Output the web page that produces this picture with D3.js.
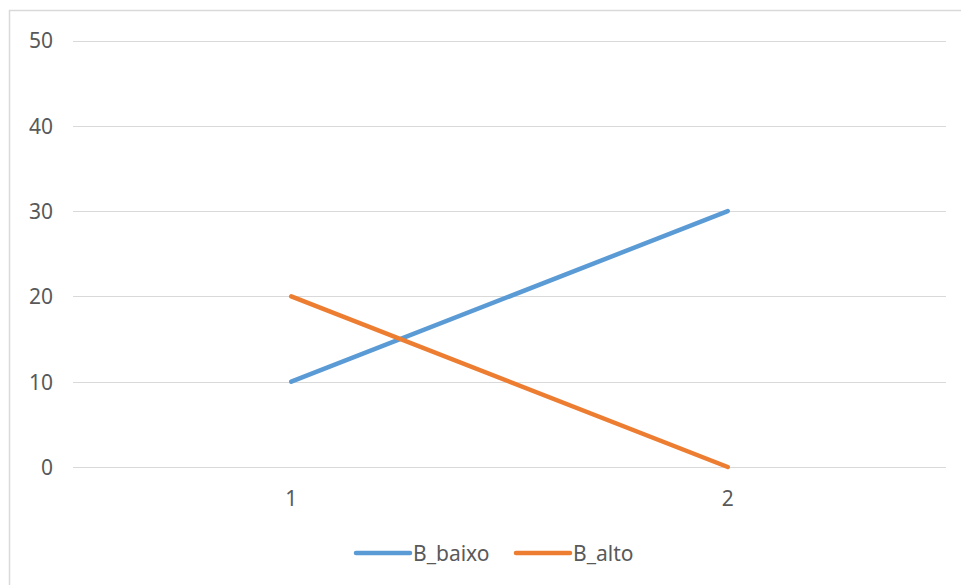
<!DOCTYPE html>
<html><head><meta charset="utf-8">
<script src="https://cdn.jsdelivr.net/npm/d3@7"></script>
<style>body{margin:0;background:#fff}svg{display:block}</style>
</head><body>
<svg id="c" width="961" height="585"></svg>
<script>
const categories = ["1", "2"];
const seriesNames = ["B_baixo", "B_alto"];
const B_baixo = [10, 30];
const B_alto = [20, 0];
const yTicks = [0, 10, 20, 30, 40, 50];
const colors = ["#5B9BD5", "#ED7D31"];

const svg = d3.select("#c");
const font = "Noto Sans, sans-serif";
const fs = 21;
svg.append("rect").attr("x", 9.5).attr("y", 10.5).attr("width", 1000).attr("height", 1000)
  .attr("fill", "#fff").attr("stroke", "#d9d9d9").attr("stroke-width", 1.5);

const x = d3.scaleBand().domain(categories).range([73, 946]);
const y = d3.scaleLinear().domain([0, 50]).range([467, 40.5]);

const grid = svg.append("g");
grid.selectAll("line").data(yTicks).join("line")
  .attr("x1", 73).attr("x2", 946)
  .attr("y1", d => Math.round(y(d)) + 0.5).attr("y2", d => Math.round(y(d)) + 0.5)
  .attr("stroke", "#d9d9d9").attr("stroke-width", 1);

const yAxis = svg.append("g").attr("transform", "translate(53,0)")
  .call(d3.axisLeft(y).tickValues(yTicks).tickSize(0).tickPadding(0));
yAxis.select(".domain").remove();
yAxis.selectAll("text").attr("font-family", font).attr("font-size", fs).attr("fill", "#595959")
  .attr("x", 0).attr("dy", "0.35em");

const xAxis = svg.append("g").attr("transform", "translate(0,467)")
  .call(d3.axisBottom(x).tickSize(0).tickPadding(0));
xAxis.select(".domain").remove();
xAxis.selectAll("text").attr("font-family", font).attr("font-size", fs).attr("fill", "#595959")
  .attr("y", 32).attr("dy", "0.35em");

const data = [B_baixo, B_alto];
const line = d3.line().x((d, i) => x(categories[i]) + x.bandwidth() / 2).y(d => y(d));
svg.append("g").selectAll("path").data(data).join("path")
  .attr("d", line).attr("fill", "none")
  .attr("stroke", (d, i) => colors[i]).attr("stroke-width", 4.5).attr("stroke-linecap", "round");

const legendX = [356, 516];
const lg = svg.append("g");
seriesNames.forEach((n, i) => {
  lg.append("line").attr("x1", legendX[i]).attr("x2", legendX[i] + 54)
    .attr("y1", 553).attr("y2", 553).attr("stroke", colors[i]).attr("stroke-width", 4.5).attr("stroke-linecap", "round");
  lg.append("text").attr("x", legendX[i] + 57).attr("y", 554).attr("dy", "0.35em")
    .attr("font-family", font).attr("font-size", fs).attr("fill", "#595959").text(n);
});
</script>
</body></html>
